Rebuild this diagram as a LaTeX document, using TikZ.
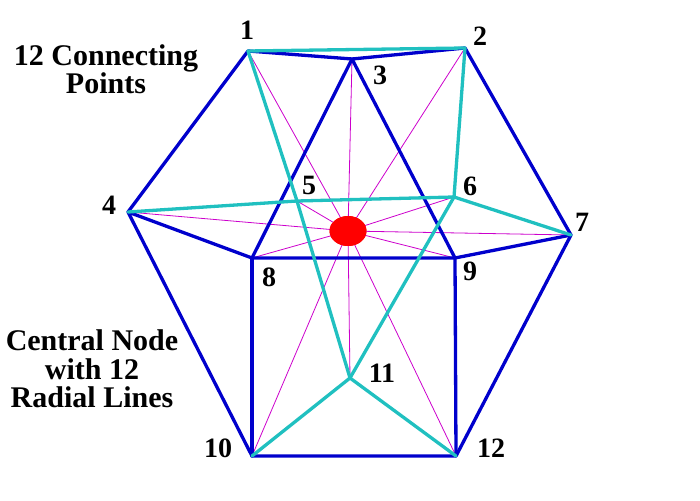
\documentclass[tikz,border=0pt]{standalone}
\usepackage{fontspec}
\setmainfont{Liberation Serif}
\usetikzlibrary{shapes.geometric}
\definecolor{edgeblue}{RGB}{0,0,204}
\definecolor{edgecyan}{RGB}{32,192,192}
\definecolor{radmag}{RGB}{204,0,204}
\begin{document}
\begin{tikzpicture}[x=1pt,y=-1pt,
  blueedge/.style={draw=edgeblue,line width=3.3pt,line join=round,line cap=round},
  cyanedge/.style={draw=edgecyan,line width=3.3pt,line join=round,line cap=round},
  radial/.style={draw=radmag,line width=0.8pt},
  numlabel/.style={font=\fontsize{28}{28}\selectfont\bfseries,inner sep=0pt},
  caption/.style={font=\fontsize{30}{28.5}\selectfont\bfseries,align=center,inner sep=0pt},
  hub/.style={ellipse,fill=red,minimum width=37pt,minimum height=30pt,inner sep=0pt}]
\useasboundingbox (0,0) rectangle (700,500);
\coordinate (p1) at (248,51);
\coordinate (p2) at (465,48);
\coordinate (p3) at (352,59);
\coordinate (p4) at (128,212);
\coordinate (p5) at (297,201);
\coordinate (p6) at (454,197);
\coordinate (p7) at (571,235);
\coordinate (p8) at (252,258);
\coordinate (p9) at (455,258);
\coordinate (p10) at (252,456);
\coordinate (p11) at (350,378);
\coordinate (p12) at (456,456);
\node[hub] (c) at (348,231) {};
% radial lines
\foreach \i in {1,...,12} \draw[radial] (c.center) -- (p\i);
% blue edges
\draw[blueedge] (p4) -- (p1) -- (p3) -- (p2) -- (p7) -- (p12) -- (p10) -- (p4);
\draw[blueedge] (p4) -- (p8) -- (p9) -- (p7);
\draw[blueedge] (p8) -- (p3) -- (p9);
\draw[blueedge] (p8) -- (p10);
\draw[blueedge] (p9) -- (p12);
% cyan edges
\draw[cyanedge] (p1) -- (p2) -- (p6) -- (p7);
\draw[cyanedge] (p4) -- (p5) -- (p6) -- (p11);
\draw[cyanedge] (p1) -- (p5) -- (p11);
\draw[cyanedge] (p10) -- (p11) -- (p12);
\node[hub] at (c) {};
% labels
\node[numlabel] (l1) at (247,30) {1};
\node[numlabel] (l2) at (480,36) {2};
\node[numlabel] (l3) at (380,75) {3};
\node[numlabel] (l4) at (109,205) {4};
\node[numlabel] (l5) at (309,185) {5};
\node[numlabel] (l6) at (470,186) {6};
\node[numlabel] (l7) at (582,222) {7};
\node[numlabel] (l8) at (269,277) {8};
\node[numlabel] (l9) at (470,271) {9};
\node[numlabel] (l10) at (218,448) {10};
\node[numlabel] (l11) at (382,373) {11};
\node[numlabel] (l12) at (491,448) {12};
\node[caption] (t1) at (106,69) {12 Connecting\\Points};
\node[caption] (t2) at (92,369) {Central Node\\with 12\\Radial Lines};
\end{tikzpicture}
\end{document}
